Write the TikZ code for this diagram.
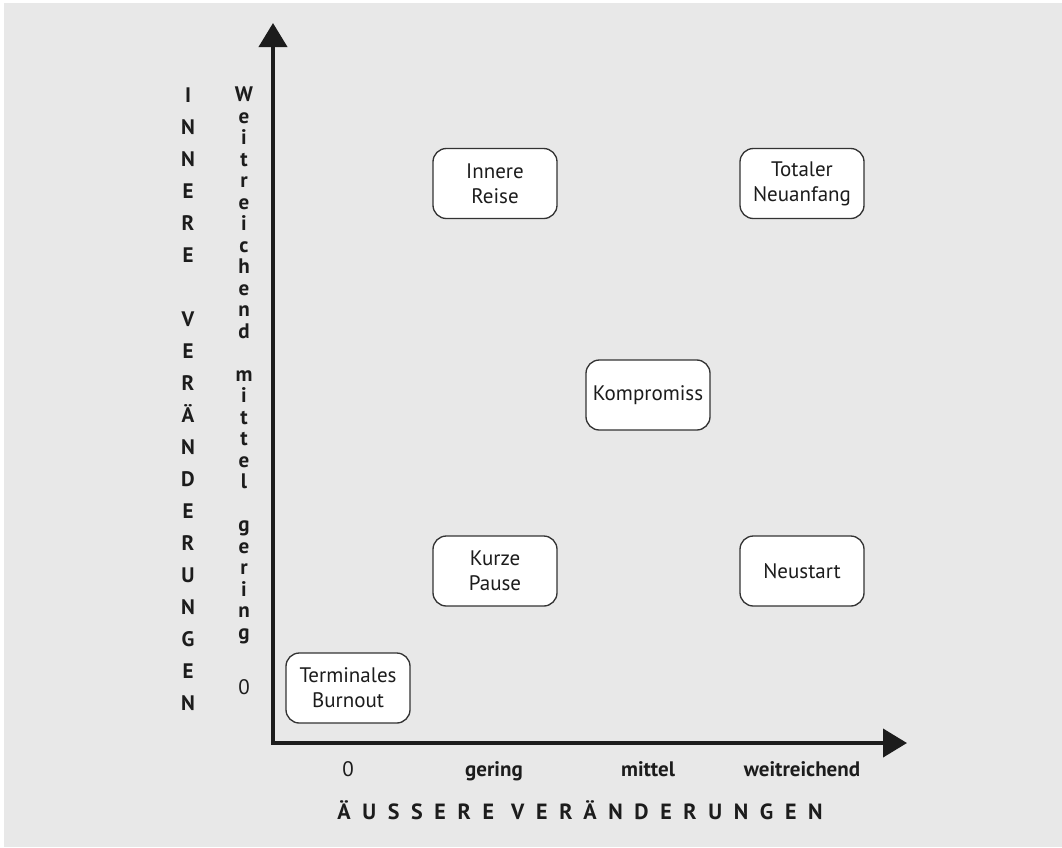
\documentclass[tikz,border=0pt]{standalone}
\usepackage{fontspec}
\setmainfont{PT Sans}
\usetikzlibrary{arrows.meta}
\definecolor{bg}{HTML}{E8E8E8}
\definecolor{ink}{HTML}{1C1C1C}
\definecolor{boxline}{HTML}{333333}
\tikzset{
  px/.style={x=0.75pt,y=-0.75pt},
  box/.style={draw=boxline,line width=1pt,fill=white,rounded corners=10pt,
    minimum width=93pt,minimum height=52.5pt,inner sep=0pt,align=center,
    text=ink,font=\fontsize{15.75}{18.75}\selectfont},
  axis/.style={draw=ink,line width=3pt,line cap=rect,-{Triangle[length=18pt,width=21pt]}},
  vlet/.style={anchor=base,inner sep=0pt,text=ink,font=\fontsize{15.75}{18}\selectfont\bfseries},
  tick/.style={anchor=base,inner sep=0pt,text=ink,font=\fontsize{15.75}{18}\selectfont},
  btick/.style={tick,font=\fontsize{15.75}{18}\selectfont\bfseries},
  title/.style={anchor=base,inner sep=0pt,text=ink,
    font=\fontsize{16.5}{18}\selectfont\bfseries\addfontfeature{LetterSpace=53}},
}
\begin{document}
\begin{tikzpicture}[px]
\useasboundingbox (0,0) rectangle (1062,847);
\fill[white] (0,0) rectangle (1062,847);
\fill[bg] (4,3) rectangle (1062,847);
% axes
\coordinate (O) at (273,743);
\coordinate (ytip) at (273,23);
\coordinate (xtip) at (907,743);
\draw[axis] (O) -- (ytip);
\draw[axis] (O) -- (xtip);
% boxes
\node[box] (reise) at (495,183.5) {Innere\\Reise};
\node[box] (neuanfang) at (802,183.5) {Totaler\\Neuanfang};
\node[box] (kompromiss) at (648,395) {Kompromiss};
\node[box] (pause) at (495,571) {Kurze\\Pause};
\node[box] (neustart) at (802,571) {Neustart};
\node[box] (burnout) at (348,688) {Terminales\\Burnout};
% x ticks
\node[tick] (x0) at (348,776) {0};
\node[btick] (x1) at (494,776) {gering};
\node[btick] (x2) at (648,776) {mittel};
\node[btick] (x3) at (802,776) {weitreichend};
\node[title] (xtitle) at (580,819) {ÄUSSERE VERÄNDERUNGEN};
% left vertical title
\foreach \c/\k [count=\i] in {I/0,N/1,N/2,E/3,R/4,E/5,V/7,E/8,R/9,Ä/10,N/11,D/12,E/13,R/14,U/15,N/16,G/17,E/18,N/19}
  \node[vlet] (iv\i) at (188,102.5+32*\k) {\c};
% y ticks (vertical)
\foreach \c/\k [count=\i] in {W/0,e/1,i/2,t/3,r/4,e/5,i/6,c/7,h/8,e/9,n/10,d/11,m/13,i/14,t/15,t/16,e/17,l/18,g/20,e/21,r/22,i/23,n/24,g/25}
  \node[vlet] (yt\i) at (244,101.5+21.5*\k) {\c};
\node[tick] (y0) at (244,694.5) {0};
\end{tikzpicture}
\end{document}
